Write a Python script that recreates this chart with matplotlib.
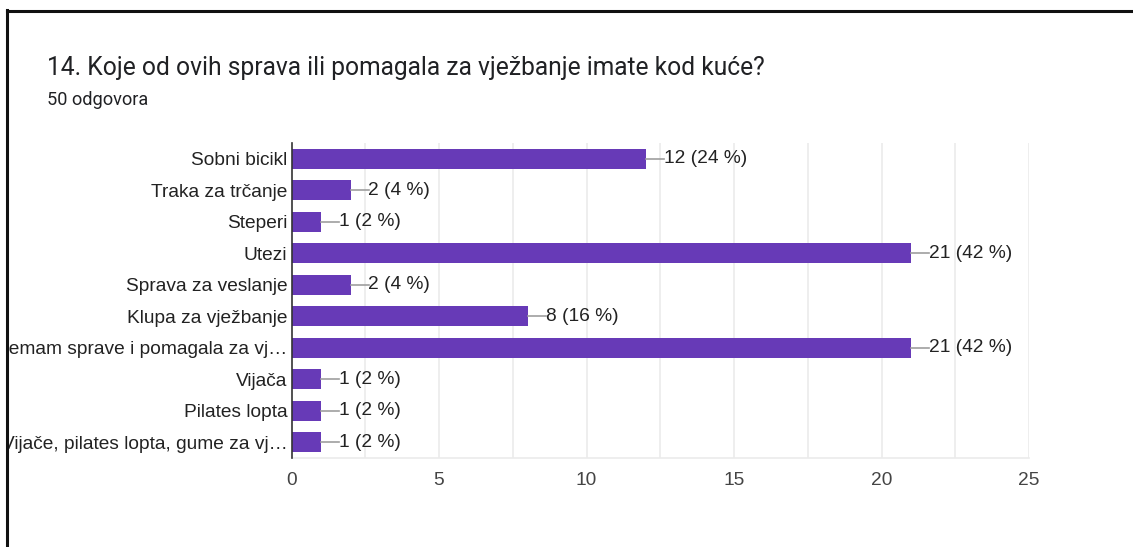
import matplotlib.pyplot as plt
from matplotlib.lines import Line2D
from matplotlib.patches import Rectangle

# podaci sa grafikona
categories = ['Sobni bicikl', 'Traka za trčanje', 'Steperi', 'Utezi',
              'Sprava za veslanje', 'Klupa za vježbanje',
              'Nemam sprave i pomagala za vj…', 'Vijača', 'Pilates lopta',
              'Vijače, pilates lopta, gume za vj…']
counts = [12, 2, 1, 21, 2, 8, 21, 1, 1, 1]
total = 50
xticks = [0, 5, 10, 15, 20, 25]
xgrid = [2.5, 5, 7.5, 10, 12.5, 15, 17.5, 20, 22.5, 25]

title = '14. Koje od ovih sprava ili pomagala za vježbanje imate kod kuće?'
subtitle = '50 odgovora'

bar_color = '#673ab7'
chart_font = ['Liberation Sans', 'DejaVu Sans']
fs = 13.8

x0, x1 = 291.5, 1029
fig = plt.figure(figsize=(11.33, 5.47), dpi=100)
ax = fig.add_axes([x0/1133, 1-458/547, (x1-x0)/1133, (458-143)/547])

ypos = list(range(len(categories)))
ax.barh(ypos, counts, height=0.63, color=bar_color, zorder=3)

px = 25 / (x1 - x0)  # vrijednost po pikselu
for y, c in zip(ypos, counts):
    ax.plot([c, c + 18*px], [y, y], color='#9e9e9e', lw=1.2, zorder=3)
    ax.text(c + 18*px, y, '%d (%d %%)' % (c, round(c*100/total)),
            va='center', ha='left', fontsize=fs, color='#222222',
            family=chart_font)

# mrežne linije svakih 2.5
for g in xgrid:
    ax.axvline(g, color='#ebebeb', lw=1.2, zorder=0)

ax.set_xlim(0, 25)
ax.set_ylim(len(categories)-0.5, -0.5)
ax.set_xticks(xticks)
ax.set_xticklabels([str(t) for t in xticks], fontsize=fs, color='#444444',
                   family=chart_font)
ax.set_yticks(ypos)
ax.set_yticklabels(categories, fontsize=fs, color='#222222', family=chart_font)
ax.tick_params(axis='both', length=0)
ax.tick_params(axis='x', pad=10)
ax.tick_params(axis='y', pad=3)

for s in ['top', 'right']:
    ax.spines[s].set_visible(False)
ax.spines['bottom'].set_color('#ebebeb')
ax.spines['bottom'].set_linewidth(1.2)
ax.spines['left'].set_color('#333333')
ax.spines['left'].set_linewidth(1.2)
ax.spines['left'].set_zorder(4)

fig.text(47/1133, 1-68/547, title, fontsize=17.7, color='#202124',
         family=['Roboto', 'DejaVu Sans'], va='center', ha='left')
fig.text(47/1133, 1-100/547, subtitle, fontsize=13.1, color='#202124',
         family=['Roboto', 'DejaVu Sans'], va='center', ha='left')

# rub kartice (lijevo i gore), s bijelim dijelom koji odsijeca tekst
fig.patches.append(Rectangle((0, 0), 6/1133, 1, transform=fig.transFigure,
                             color='white', zorder=10))
fig.lines.append(Line2D([7/1133, 7/1133], [0, 1-10/547], transform=fig.transFigure,
                        color='#111111', lw=2.2, zorder=11))
fig.lines.append(Line2D([7/1133, 1], [1-11/547, 1-11/547], transform=fig.transFigure,
                        color='#111111', lw=2.2, zorder=11))

fig.savefig('out.png', dpi=100)
